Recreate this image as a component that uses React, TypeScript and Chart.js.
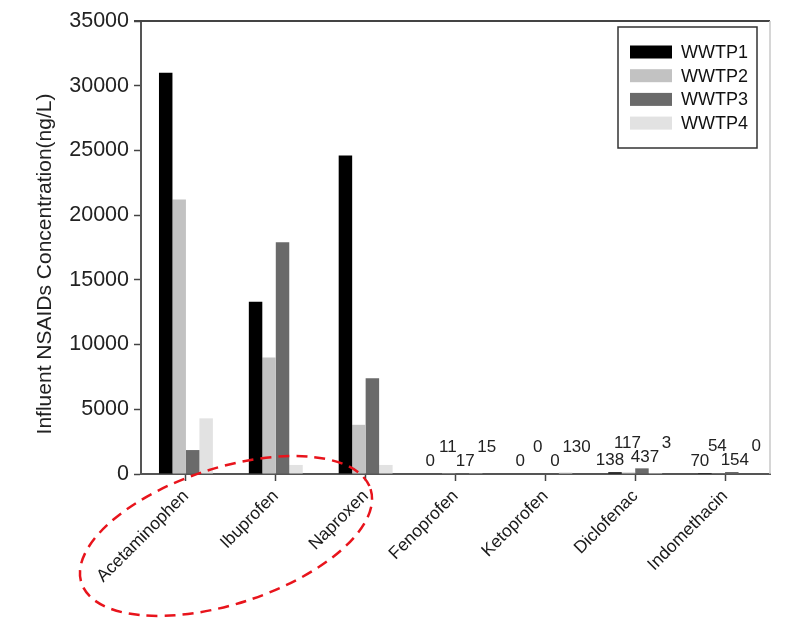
import React, { useEffect, useRef } from "react";
import { Chart, registerables } from "chart.js";

Chart.register(...registerables);

const categories = ["Acetaminophen", "Ibuprofen", "Naproxen", "Fenoprofen", "Ketoprofen", "Diclofenac", "Indomethacin"];
const seriesNames = ["WWTP1", "WWTP2", "WWTP3", "WWTP4"];
const wwtp1 = [31000, 13300, 24600, 0, 0, 138, 70];
const wwtp2 = [21200, 9000, 3800, 11, 0, 117, 54];
const wwtp3 = [1850, 17900, 7400, 17, 0, 437, 154];
const wwtp4 = [4300, 700, 700, 15, 130, 3, 0];
const seriesColors = ["#000000", "#c2c2c2", "#6a6a6a", "#e2e2e2"];
const yTicks = [0, 5000, 10000, 15000, 20000, 25000, 30000, 35000];
const yTitle = "Influent NSAIDs Concentration(ng/L)";
const labelThreshold = 1000;

const FONT = "'Liberation Sans', Arial, sans-serif";

const overlayPlugin = {
  id: "overlay",
  afterDatasetsDraw(chart: any) {
    const ctx = chart.ctx;
    const area = chart.chartArea;
    ctx.save();
    // frame: top and right
    ctx.strokeStyle = "#444";
    ctx.lineWidth = 2;
    ctx.beginPath();
    ctx.moveTo(area.left - 7, area.top);
    ctx.lineTo(area.right, area.top);
    ctx.stroke();
    ctx.strokeStyle = "#c8c8c8";
    ctx.lineWidth = 1.5;
    ctx.beginPath();
    ctx.moveTo(area.right, area.top);
    ctx.lineTo(area.right, area.bottom);
    ctx.stroke();

    // value labels on small categories
    ctx.fillStyle = "#222";
    ctx.font = `17px ${FONT}`;
    ctx.textAlign = "center";
    ctx.textBaseline = "bottom";
    const xOff = [-5, -1, 3, 11];
    categories.forEach((_, ci) => {
      const vals = chart.data.datasets.map((d: any) => d.data[ci]);
      if (Math.max(...vals) >= labelThreshold) return;
      const lowerBottoms: number[] = [];
      const pos: { x: number; y: number }[] = [];
      chart.data.datasets.forEach((d: any, di: number) => {
        const el = chart.getDatasetMeta(di).data[ci];
        pos[di] = { x: el.x, y: el.y };
        if (di % 2 === 0) lowerBottoms.push(Math.min(el.y - 3, area.bottom - 4));
      });
      const upperBottom = Math.min(...lowerBottoms) - 14;
      chart.data.datasets.forEach((d: any, di: number) => {
        const p = pos[di];
        const yb = di % 2 === 0 ? Math.min(p.y - 3, area.bottom - 4) : upperBottom;
        ctx.fillText(String(d.data[ci]), p.x + xOff[di], yb);
      });
    });

    // legend
    const lx = 618, ly = 27, lw = 139, lh = 121;
    ctx.fillStyle = "#fff";
    ctx.fillRect(lx, ly, lw, lh);
    ctx.strokeStyle = "#333";
    ctx.lineWidth = 1.5;
    ctx.strokeRect(lx, ly, lw, lh);
    ctx.font = `18px ${FONT}`;
    ctx.textAlign = "left";
    ctx.textBaseline = "middle";
    chart.data.datasets.forEach((d: any, di: number) => {
      const cy = 52 + di * 23.7;
      ctx.fillStyle = d.backgroundColor;
      ctx.fillRect(630, cy - 6.5, 42, 13);
      ctx.fillStyle = "#111";
      ctx.fillText(d.label, 681, cy + 1);
    });

    // y title
    ctx.save();
    ctx.translate(45, 264);
    ctx.rotate(-Math.PI / 2);
    ctx.font = `21px ${FONT}`;
    ctx.fillStyle = "#222";
    ctx.textAlign = "center";
    ctx.textBaseline = "middle";
    ctx.fillText(yTitle, 0, 0);
    ctx.restore();
    ctx.restore();
  },
  afterDraw(chart: any) {
    const ctx = chart.ctx;
    ctx.save();
    ctx.strokeStyle = "#e8141c";
    ctx.lineWidth = 2.5;
    ctx.setLineDash([11, 7]);
    ctx.beginPath();
    ctx.ellipse(226, 536, 152, 68, (-18 * Math.PI) / 180, 0, Math.PI * 2);
    ctx.stroke();
    ctx.restore();
  },
};

export default function App() {
  const ref = useRef<HTMLCanvasElement>(null);
  useEffect(() => {
    if (!ref.current) return;
    const series = [wwtp1, wwtp2, wwtp3, wwtp4];
    const chart = new Chart(ref.current, {
      type: "bar",
      data: {
        labels: categories,
        datasets: series.map((s, i) => ({
          label: seriesNames[i],
          data: s,
          backgroundColor: seriesColors[i],
          borderWidth: 0,
          categoryPercentage: 0.6,
          barPercentage: 1.0,
        })),
      },
      plugins: [overlayPlugin],
      options: {
        responsive: false,
        animation: false,
        devicePixelRatio: 1,
        layout: { padding: { top: 21, right: 19, left: 0, bottom: 0 } },
        plugins: { legend: { display: false }, tooltip: { enabled: false } },
        scales: {
          x: {
            offset: true,
            grid: { display: true, drawOnChartArea: false, offset: false, tickLength: 7, color: "#444", tickWidth: 1.5 },
            border: { display: true, color: "#555", width: 2 },
            ticks: {
              minRotation: 45,
              maxRotation: 45,
              padding: 5,
              color: "#1a1a1a",
              font: { family: FONT, size: 17.5 },
              autoSkip: false,
            },
            afterFit: (s: any) => { s.height = 145; },
          },
          y: {
            min: 0,
            max: 35000,
            afterBuildTicks: (s: any) => { s.ticks = yTicks.map((v) => ({ value: v })); },
            grid: { display: true, drawOnChartArea: false, tickLength: 7, color: "#444", tickWidth: 1.5 },
            border: { display: true, color: "#555", width: 2 },
            ticks: {
              padding: 5,
              color: "#222",
              font: { family: FONT, size: 21.5 },
              callback: (v: any) => String(v),
            },
            afterFit: (s: any) => { s.width = 141; },
          },
        },
      },
    });
    return () => chart.destroy();
  }, []);
  return (
    <div style={{ position: "fixed", left: 0, top: 0, width: 789, height: 619, background: "#fff" }}>
      <canvas ref={ref} width={789} height={619} style={{ display: "block" }} />
    </div>
  );
}
